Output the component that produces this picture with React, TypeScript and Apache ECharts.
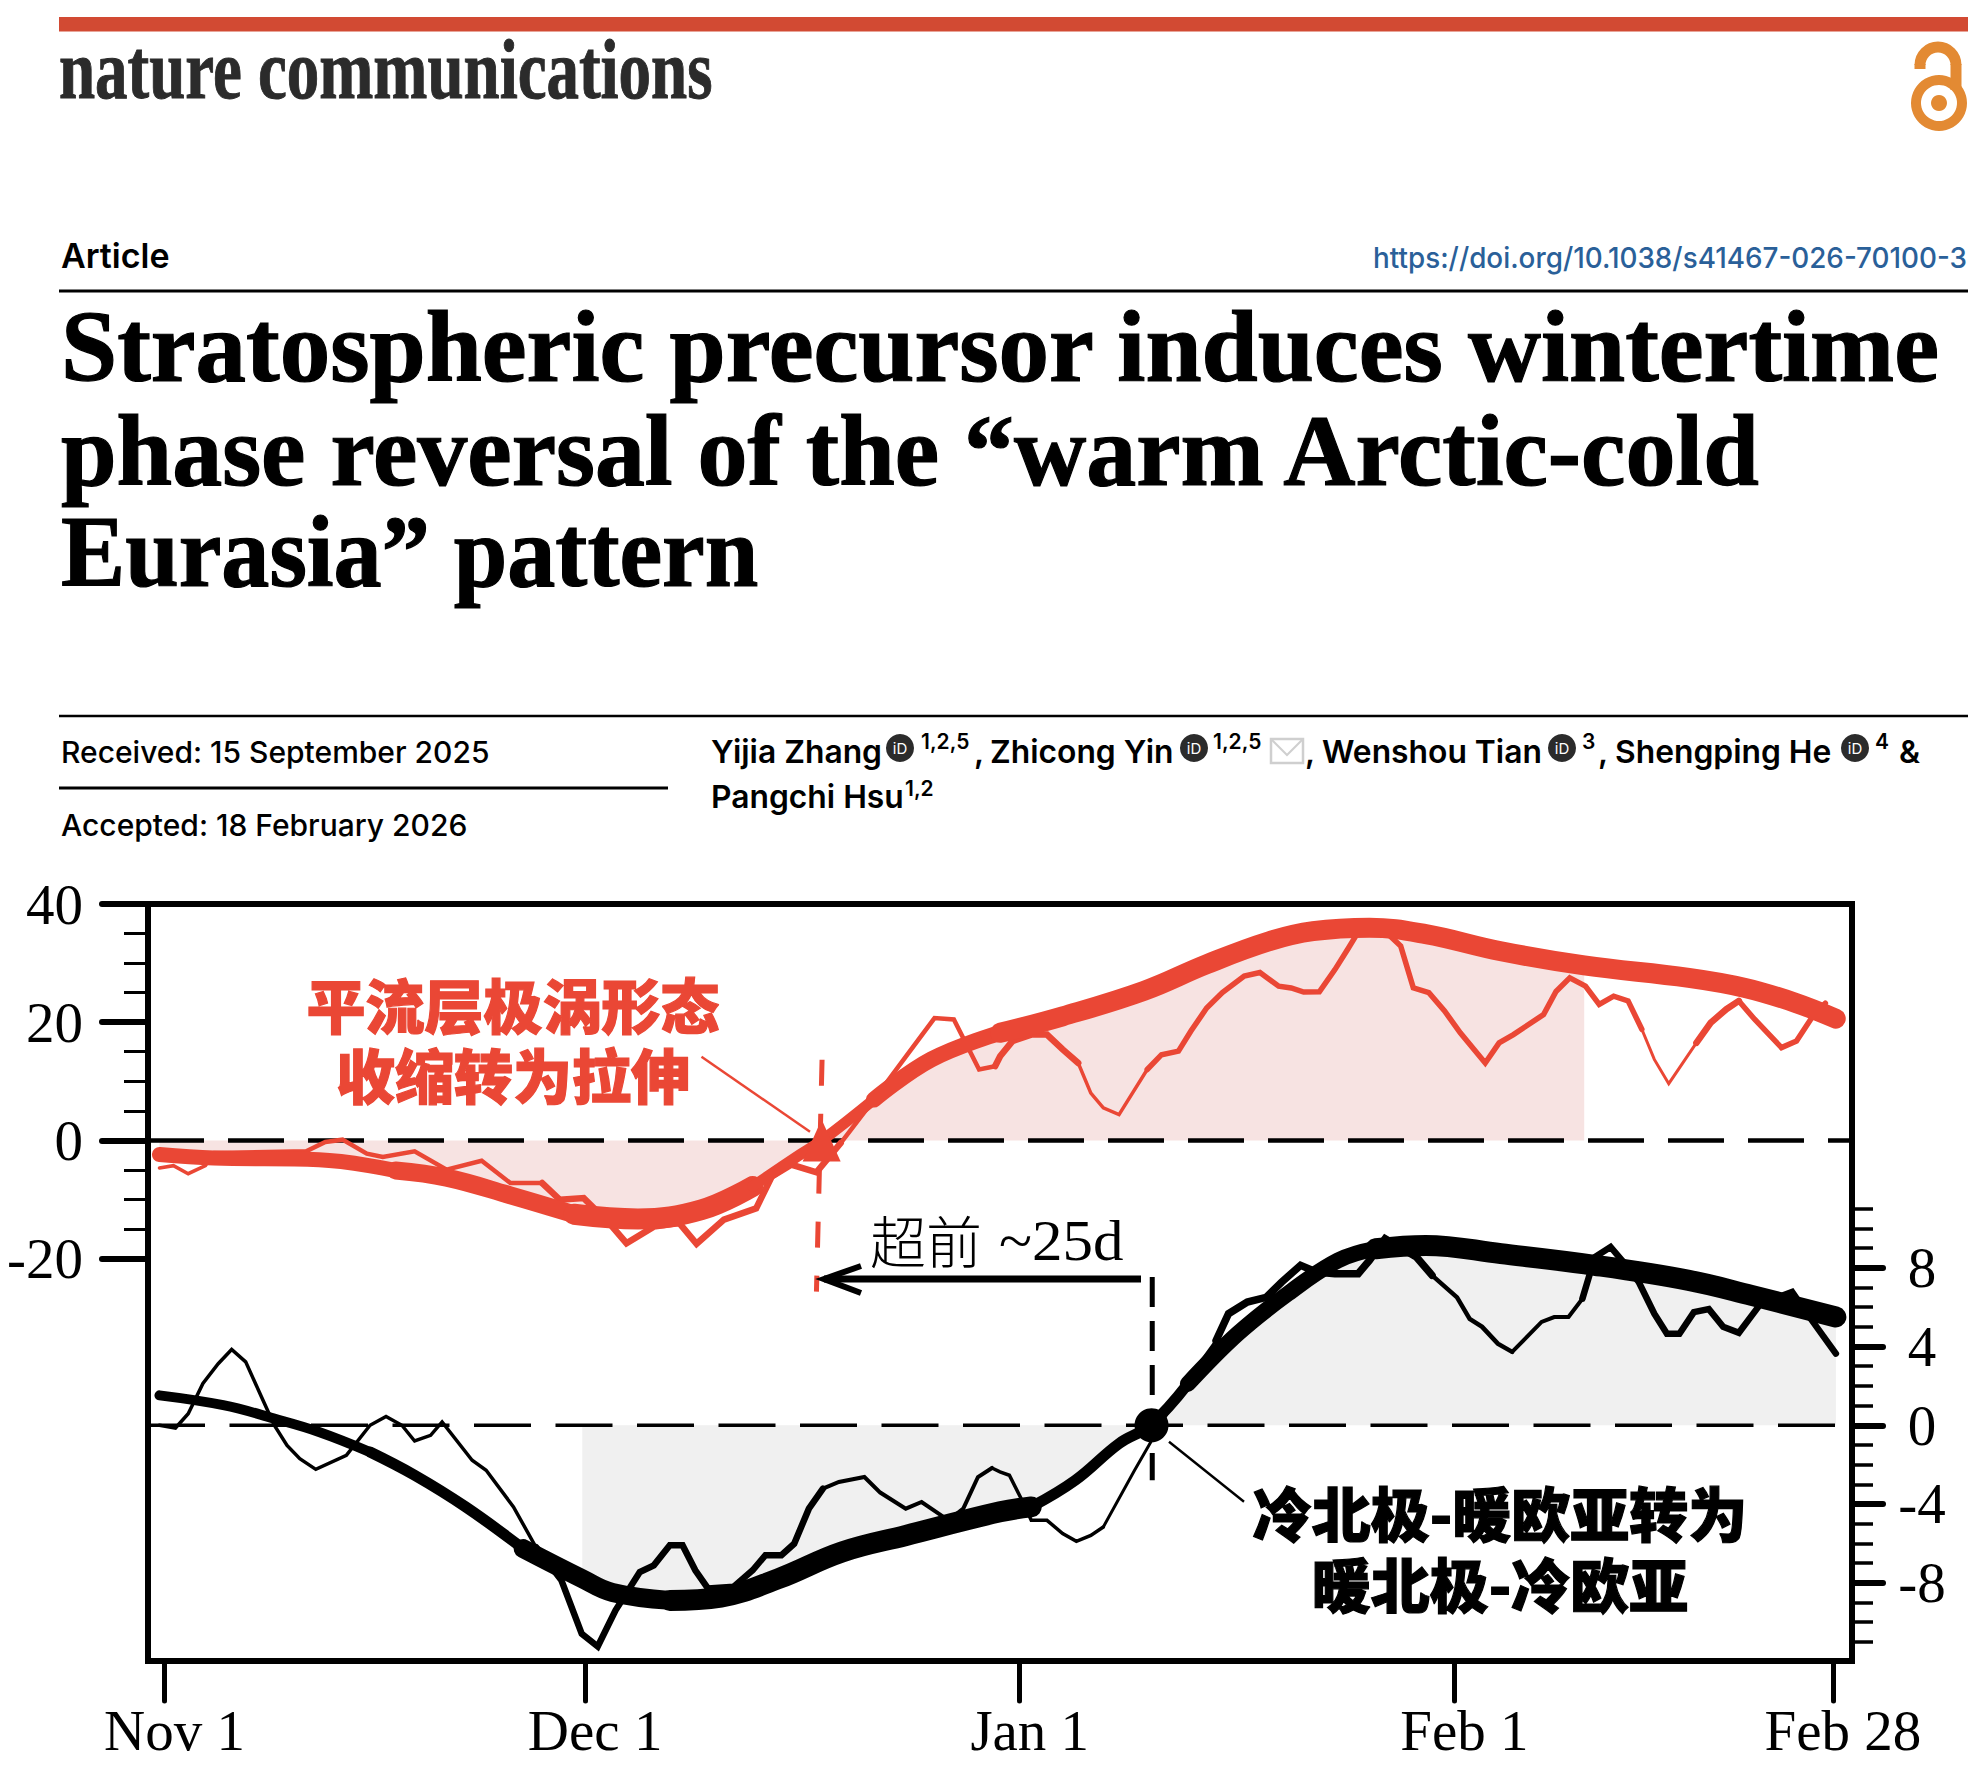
import React, { useEffect, useRef } from "react";
import * as echarts from "echarts";

const xTickDays = [0, 30, 61, 92, 119];
const xTickLabels = ["Nov 1", "Dec 1", "Jan 1", "Feb 1", "Feb 28"];
const leftMajor = [40, 20, 0, -20];
const leftMinor = [35, 30, 25, 15, 10, 5, -5, -10, -15];
const rightMajor = [8, 4, 0, -4, -8];
const rightMinor = [11, 10, 9, 7, 6, 5, 3, 2, 1, -1, -2, -3, -5, -6, -7, -9, -10, -11];

const redThinDays = [-0.36, 0.64, 1.69, 2.92, 3.51, 10.11, 11.47, 12.7, 14.43, 15.57, 17.84, 20.12, 22.62, 24.67, 26.94, 28.2, 29.9, 31.72, 32.95, 34.9, 36.72, 37.95, 39.9, 42.2, 43.32, 44.7, 46.5, 48.23, 50.6, 52.9, 54.92, 56.3, 58.1, 59.24, 59.6, 60.48, 61.82, 62.94, 64.06, 65.17, 66.07, 66.96, 68.08, 70.09, 71.11, 72.32, 73.21, 74.33, 75.45, 77.01, 78.13, 79.47, 80.36, 81.25, 82.37, 83.48, 84.38, 85.05, 86.1, 87.28, 88.17, 89.07, 90.18, 91.3, 92.42, 94.2, 95.19, 96.21, 98.36, 99.25, 100.23, 101.35, 102.33, 103.36, 104.39, 105.37, 106.26, 107.29, 109.26, 110.28, 111.4, 112.29, 113.41, 115.33, 116.4, 117.56, 118.46];
const redThinValues = [-4.68, -4.28, -5.64, -4.28, -2.14, -1.86, -0.27, 0.12, -2.25, -2.82, -1.86, -4.96, -3.44, -7.22, -7.22, -10.05, -9.77, -14, -17.4, -14.6, -14, -17.5, -13.4, -11.5, -6.1, -4.1, -5.4, -0.45, 6.9, 14.25, 20.7, 20.46, 12, 12.55, 14.25, 16.8, 17.9, 17.9, 15.4, 13.1, 8, 5.5, 4.36, 12, 14.5, 15.1, 18.5, 22.4, 25, 27.8, 28.4, 26.1, 25.8, 25.1, 25.15, 28.9, 32.3, 34.9, 36, 34.9, 32.9, 25.8, 25, 21.9, 18.2, 13.1, 16.5, 17.9, 21.3, 25.2, 27.5, 26.1, 23, 24.4, 23.6, 18.8, 13.7, 9.6, 16.5, 19.9, 22.2, 23.6, 20.5, 15.7, 16.8, 21, 23.2];

const redSmoothDays = [-0.36, 3.51, 11.02, 16.48, 20.12, 24.67, 29.2, 33.77, 38.3, 41.95, 45.14, 46.96, 50.6, 54.7, 59.6, 64.06, 69.86, 74.33, 78.8, 81.92, 85.94, 89.96, 95.32, 101.26, 108.72, 112.74, 116.3, 119.2];
const redSmoothValues = [-2.4, -3, -3.27, -5.1, -6.3, -9.3, -12.5, -13.3, -11.74, -7.8, -2.7, 0.1, 6.9, 13.7, 18.2, 21, 25.3, 29.8, 33.7, 35.4, 36, 34.9, 32, 29.6, 27.5, 25.8, 23.3, 20.6];

const blackThinDays = [-0.36, 0.78, 1.69, 2.74, 3.83, 4.79, 5.79, 6.92, 7.83, 8.74, 9.65, 10.79, 12.97, 14.66, 15.8, 16.93, 17.84, 18.98, 19.8, 21.94, 22.94, 24.89, 26.49, 28.31, 29.76, 30.9, 32.17, 33.9, 34.9, 36.04, 36.95, 37.86, 38.77, 40.6, 41.95, 42.86, 44, 44.91, 45.96, 46.96, 48.1, 49.92, 51.05, 52.87, 54, 55.92, 56.97, 58.02, 59.02, 59.59, 60.26, 61.15, 61.82, 62.94, 64.06, 65.04, 66.07, 66.96, 69.19, 71.65, 72.77, 75, 75.89, 77.23, 78.57, 79.69, 81.03, 82.15, 83.48, 85.14, 85.94, 87.06, 89.29, 90.41, 92.19, 93.09, 93.98, 95.1, 96.12, 98.22, 99.12, 100.14, 101.13, 102.02, 103.14, 104.25, 105.15, 106.26, 107.16, 108.05, 109.08, 110.15, 111.17, 112.29, 113.85, 116.09, 117.43, 119.21];
const blackThinValues = [0, -0.14, 0.59, 2.12, 3.13, 3.85, 3.22, 1.44, 0, -1.02, -1.7, -2.24, -1.53, 0, 0.45, 0, -0.8, -0.51, 0.17, -1.78, -2.29, -4.15, -6.19, -7.88, -10.6, -11.24, -9.4, -7.46, -7.12, -6.1, -6.1, -7.37, -8.3, -8.2, -7.37, -6.6, -6.6, -6.02, -4.24, -3.22, -2.88, -2.63, -3.42, -4.24, -3.9, -4.83, -4.24, -2.63, -2.17, -2.37, -2.54, -3.8, -4.83, -4.83, -5.5, -5.9, -5.6, -5.17, -2.29, 0.76, 2.1, 4.3, 5.67, 6.26, 6.5, 7.28, 8.13, 7.79, 7.7, 7.7, 8.38, 9.48, 8.55, 7.62, 6.5, 5.4, 5, 4.15, 3.73, 5.25, 5.5, 5.5, 6.43, 8.55, 9.06, 8.13, 7.28, 5.67, 4.65, 4.65, 5.75, 5.9, 5, 4.7, 6.18, 6.77, 5.4, 3.64];

const blackSmoothDays = [-0.36, 4.19, 7.83, 11.02, 14.66, 17.84, 21.48, 25.58, 29.8, 31.95, 36.04, 39.68, 43.77, 48.32, 52.88, 59.6, 61.82, 64.95, 68.08, 70.31, 72.99, 76.56, 80.13, 83.71, 86.39, 89.96, 95.32, 102, 108.72, 113.19, 119.21];
const blackSmoothValues = [1.52, 1.02, 0.34, -0.34, -1.36, -2.54, -4.15, -6.27, -7.8, -8.5, -8.9, -8.73, -7.8, -6.44, -5.6, -4.4, -4.15, -2.8, -0.93, 0, 2.1, 4.66, 6.69, 8.38, 8.97, 9.14, 8.72, 8.13, 7.36, 6.6, 5.5];

const redThinWidths: [number, number, number][] = [[-0.36, 3.51, 3.5], [3.51, 26.94, 4.5], [26.94, 48.23, 6.5], [48.23, 59.24, 4.5], [59.24, 65.17, 6.5], [65.17, 70.09, 3.5], [70.09, 105.37, 5.5], [105.37, 109.26, 3], [109.26, 112.29, 6.5], [112.29, 118.46, 5.5]];
const blackThinWidths: [number, number, number][] = [[-0.36, 26.49, 3.5], [26.49, 46.96, 6.5], [46.96, 59.02, 4], [59.02, 66.96, 3.5], [66.96, 75, 3], [75, 90.41, 7.5], [90.41, 96.12, 4.5], [96.12, 101.13, 4], [101.13, 119.21, 6.5]];
const redSmoothWidths: [number, number, number][] = [[-0.36, 16.48, 15], [16.48, 29.2, 18], [29.2, 41.95, 21], [41.95, 50.6, 11], [50.6, 59.6, 16], [59.6, 119.2, 20]];
const blackSmoothWidths: [number, number, number][] = [[-0.36, 14.66, 10], [14.66, 25.58, 11], [25.58, 36.04, 19], [36.04, 61.82, 21], [61.82, 72.99, 11], [72.99, 86.39, 16], [86.39, 119.21, 21]];

const RED = "#ea4735";
const SERIF = "Liberation Serif";
const CJK = "Noto Sans CJK SC";
const SANS = "Inter";

const pairs = (d: number[], v: number[]) => d.map((x, i) => [x, v[i]]);

function chunks(d: number[], v: number[], widths: [number, number, number][], color: string, yAxisIndex: number, smooth: number | boolean, z: number) {
  return widths.map(([from, to, width]) => ({
    type: "line",
    yAxisIndex,
    data: pairs(d, v).filter((p) => p[0] >= from && p[0] <= to),
    showSymbol: false,
    smooth,
    silent: true,
    z,
    lineStyle: { color, width, cap: "round", join: smooth ? "round" : "miter" },
  }));
}

function plainLine(yAxisIndex: number, data: number[][], color: string, width: number, type: any, z: number) {
  return { type: "line", yAxisIndex, data, showSymbol: false, silent: true, z, lineStyle: { color, width, type } };
}

function txt(text: string, x: number, baseline: number, size: number, o: any = {}) {
  const fill = o.fill ?? "#000";
  return {
    type: "text",
    x,
    y: baseline - size * 0.33,
    scaleX: o.scaleX ?? 1,
    z: 50,
    style: {
      text,
      x: 0,
      y: 0,
      fill,
      stroke: o.bold ? fill : undefined,
      lineWidth: o.bold ?? 0,
      lineHeight: o.lineHeight,
      fontFamily: o.family ?? SANS,
      fontSize: size,
      fontWeight: o.weight ?? "normal",
      textAlign: o.align ?? "left",
      textVerticalAlign: "middle",
    },
  };
}

function hline(x1: number, x2: number, y: number, w: number, color = "#000") {
  return { type: "line", z: 50, shape: { x1, y1: y, x2, y2: y }, style: { stroke: color, lineWidth: w } };
}

function seg(x1: number, y1: number, x2: number, y2: number, w: number, color: string) {
  return { type: "line", z: 50, shape: { x1, y1, x2, y2 }, style: { stroke: color, lineWidth: w } };
}

function orcid(cx: number, cy: number) {
  return [
    { type: "circle", z: 50, shape: { cx, cy, r: 14 }, style: { fill: "#2b2b2b" } },
    { type: "text", z: 51, x: cx, y: cy, style: { text: "iD", x: 0, y: 0, fill: "#fff", fontSize: 15, fontFamily: SANS, textAlign: "center", textVerticalAlign: "middle" } },
  ];
}

function buildGraphic() {
  const title = { family: SERIF, weight: "bold", bold: 1.2 };
  const author = { weight: 600 };
  const cjkHeavy = { family: CJK, weight: 900, align: "center", bold: 1.2 };
  return [
    { type: "rect", z: 50, shape: { x: 59, y: 17, width: 1909, height: 14.5 }, style: { fill: "#d24a33" } },
    txt("nature communications", 59, 97, 84, { family: SERIF, weight: "bold", fill: "#2b2b2b", scaleX: 0.773, bold: 1 }),
    // open-access mark
    { type: "ring", z: 50, shape: { cx: 1939, cy: 103, r: 28, r0: 18 }, style: { fill: "#e38a33" } },
    { type: "circle", z: 50, shape: { cx: 1939, cy: 103, r: 8 }, style: { fill: "#e38a33" } },
    { type: "arc", z: 50, shape: { cx: 1938, cy: 65, r: 18, startAngle: Math.PI, endAngle: 0, clockwise: true }, style: { stroke: "#e38a33", lineWidth: 11, fill: "none" } },
    seg(1920, 64, 1920, 69, 11, "#e38a33"),
    seg(1956, 64, 1956, 90, 11, "#e38a33"),

    txt("Article", 61, 267, 34, { weight: 600 }),
    txt("https://doi.org/10.1038/s41467-026-70100-3", 1967, 267, 29, { align: "right", fill: "#2a6099", weight: 500, scaleX: 0.96 }),
    hline(59, 1968, 291, 3),
    txt("Stratospheric precursor induces wintertime", 61, 380, 102, { ...title, scaleX: 0.99 }),
    txt("phase reversal of the \u201cwarm Arctic-cold", 61, 484, 102, { ...title, scaleX: 0.98 }),
    txt("Eurasia\u201d pattern", 61, 585, 102, { ...title, scaleX: 0.943 }),
    hline(59, 1968, 716, 2.5),
    txt("Received: 15 September 2025", 61, 762, 30, { weight: 500 }),
    hline(59, 668, 788, 3),
    txt("Accepted: 18 February 2026", 61, 835, 30, { weight: 500 }),

    txt("Yijia Zhang", 711, 762, 31.8, author),
    ...orcid(900, 748),
    txt("1,2,5", 921, 748, 21, author),
    txt(",", 974, 762, 31.8, author),
    txt("Zhicong Yin", 990, 762, 31.8, author),
    ...orcid(1194, 748),
    txt("1,2,5", 1213, 748, 21, author),
    { type: "rect", z: 50, shape: { x: 1271, y: 739, width: 32, height: 24 }, style: { fill: "none", stroke: "#cfcfcf", lineWidth: 2.5 } },
    { type: "polyline", z: 50, shape: { points: [[1271, 739], [1287, 755], [1303, 739]] }, style: { fill: "none", stroke: "#cfcfcf", lineWidth: 2 } },
    txt(",", 1305, 762, 31.8, author),
    txt("Wenshou Tian", 1322, 762, 31.8, author),
    ...orcid(1562, 748),
    txt("3", 1582, 748, 21, author),
    txt(",", 1598, 762, 31.8, author),
    txt("Shengping He", 1615, 762, 31.8, author),
    ...orcid(1855, 748),
    txt("4", 1875, 748, 21, author),
    txt("&", 1899, 762, 31.8, author),
    txt("Pangchi Hsu", 711, 807, 31.8, author),
    txt("1,2", 905, 795, 21, author),

    // chart annotations
    txt("\u5e73\u6d41\u5c42\u6781\u6da1\u5f62\u6001\n\u6536\u7f29\u8f6c\u4e3a\u62c9\u4f38", 513, 1058, 59, { ...cjkHeavy, fill: RED, lineHeight: 70 }),
    seg(701.5, 1056.7, 810, 1131.7, 2.5, RED),
    txt("\u51b7\u5317\u6781-\u6696\u6b27\u4e9a\u8f6c\u4e3a\n\u6696\u5317\u6781-\u51b7\u6b27\u4e9a", 1500, 1566.5, 59, { ...cjkHeavy, lineHeight: 71 }),
    seg(1169, 1441.7, 1244, 1501.7, 2.5, "#000"),
    txt("\u8d85\u524d", 870, 1257, 56, { family: CJK, weight: 300 }),
    txt("~25d", 999, 1260, 56, { family: SERIF, scaleX: 1.09 }),
    seg(824, 1279, 1141, 1279, 7, "#000"),
    { type: "polyline", z: 50, shape: { points: [[861, 1266], [824, 1279], [861, 1293]] }, style: { fill: "none", stroke: "#000", lineWidth: 6 } },
  ];
}

function buildOption() {
  const xMin = -1.177;
  const xMax = 120.36;
  const axisFont = { fontFamily: SERIF, fontSize: 57, color: "#000" };
  const yBase = { type: "value", scale: false, splitLine: { show: false }, axisLine: { show: false, onZero: false } };
  const redRange = { min: -88.1, max: 40 };
  const blackRange = { min: -11.98, max: 26.49 };
  const series: any[] = [
    {
      type: "line",
      yAxisIndex: 0,
      data: pairs(redSmoothDays, redSmoothValues).filter((p) => p[0] <= 101.26),
      smooth: 0.4,
      showSymbol: false,
      silent: true,
      z: 1,
      lineStyle: { width: 0 },
      areaStyle: { color: "#f7e3e2", opacity: 1, origin: 0 },
    },
    {
      type: "line",
      yAxisIndex: 2,
      data: pairs(blackSmoothDays, blackSmoothValues).filter((p) => p[0] >= 29.8),
      smooth: 0.4,
      showSymbol: false,
      silent: true,
      z: 1,
      lineStyle: { width: 0 },
      areaStyle: { color: "#f0f0f0", opacity: 1, origin: 0 },
    },
    plainLine(0, [[xMin, 0], [xMax, 0]], "#000", 4.5, [56, 24], 2),
    plainLine(2, [[xMin, 0], [xMax, 0]], "#000", 3.5, [57, 24.5], 2),
    ...chunks(redThinDays, redThinValues, redThinWidths, RED, 0, false, 3),
    ...chunks(blackThinDays, blackThinValues, blackThinWidths, "#000", 2, false, 3),
    ...chunks(redSmoothDays, redSmoothValues, redSmoothWidths, RED, 0, 0.4, 4),
    ...chunks(blackSmoothDays, blackSmoothValues, blackSmoothWidths, "#000", 2, 0.4, 4),
    plainLine(0, [[46.9, 13.65], [46.5, -25.6]], RED, 5, [26, 28], 5),
    plainLine(2, [[70.45, 7.54], [70.45, -2.8]], "#000", 5, [30, 14], 5),
    {
      type: "scatter",
      yAxisIndex: 0,
      data: [[46.87, 0]],
      symbol: "path://M5 0 L10 10 L0 10 Z",
      symbolSize: [38, 42],
      symbolKeepAspect: false,
      silent: true,
      z: 20,
      itemStyle: { color: RED, opacity: 1 },
    },
    {
      type: "scatter",
      yAxisIndex: 2,
      data: [[70.4, 0]],
      symbol: "circle",
      symbolSize: 34,
      silent: true,
      z: 20,
      itemStyle: { color: "#000", opacity: 1 },
    },
  ];
  return {
    animation: false,
    backgroundColor: "#fff",
    grid: { show: true, left: 148, top: 904, width: 1704, height: 757, borderColor: "#000", borderWidth: 6, backgroundColor: "transparent", containLabel: false },
    xAxis: {
      type: "value",
      min: xMin,
      max: xMax,
      position: "bottom",
      splitLine: { show: false },
      axisLine: { show: false, onZero: false },
      axisTick: { show: true, customValues: xTickDays, length: 40, lineStyle: { color: "#000", width: 5, cap: "round" } },
      axisLabel: {
        show: true,
        customValues: xTickDays,
        margin: 41,
        padding: [0, 0, 0, 20],
        ...axisFont,
        formatter: (v: number) => xTickLabels[xTickDays.indexOf(v)] ?? "",
      },
    },
    yAxis: [
      {
        ...yBase,
        ...redRange,
        position: "left",
        axisTick: { show: true, customValues: leftMajor, length: 46, lineStyle: { color: "#000", width: 6, cap: "round" } },
        axisLabel: { show: true, customValues: leftMajor, margin: 65, ...axisFont },
      },
      {
        ...yBase,
        ...redRange,
        position: "left",
        axisTick: { show: true, customValues: leftMinor, length: 24, lineStyle: { color: "#000", width: 3 } },
        axisLabel: { show: false },
      },
      {
        ...yBase,
        ...blackRange,
        position: "right",
        axisTick: { show: true, customValues: rightMajor, length: 31, lineStyle: { color: "#000", width: 6, cap: "round" } },
        axisLabel: { show: true, customValues: rightMajor, margin: 70, align: "center", padding: [5, 0, 0, 0], ...axisFont },
      },
      {
        ...yBase,
        ...blackRange,
        position: "right",
        axisTick: { show: true, customValues: rightMinor, length: 21, lineStyle: { color: "#000", width: 3.5 } },
        axisLabel: { show: false },
      },
    ],
    graphic: buildGraphic(),
    series,
  };
}

export default function App() {
  const ref = useRef<HTMLDivElement>(null);
  useEffect(() => {
    const chart = echarts.init(ref.current!, undefined, { renderer: "svg" });
    chart.setOption(buildOption() as any);
    return () => chart.dispose();
  }, []);
  return <div ref={ref} style={{ position: "absolute", left: 0, top: 0, width: 1982, height: 1772 }} />;
}
